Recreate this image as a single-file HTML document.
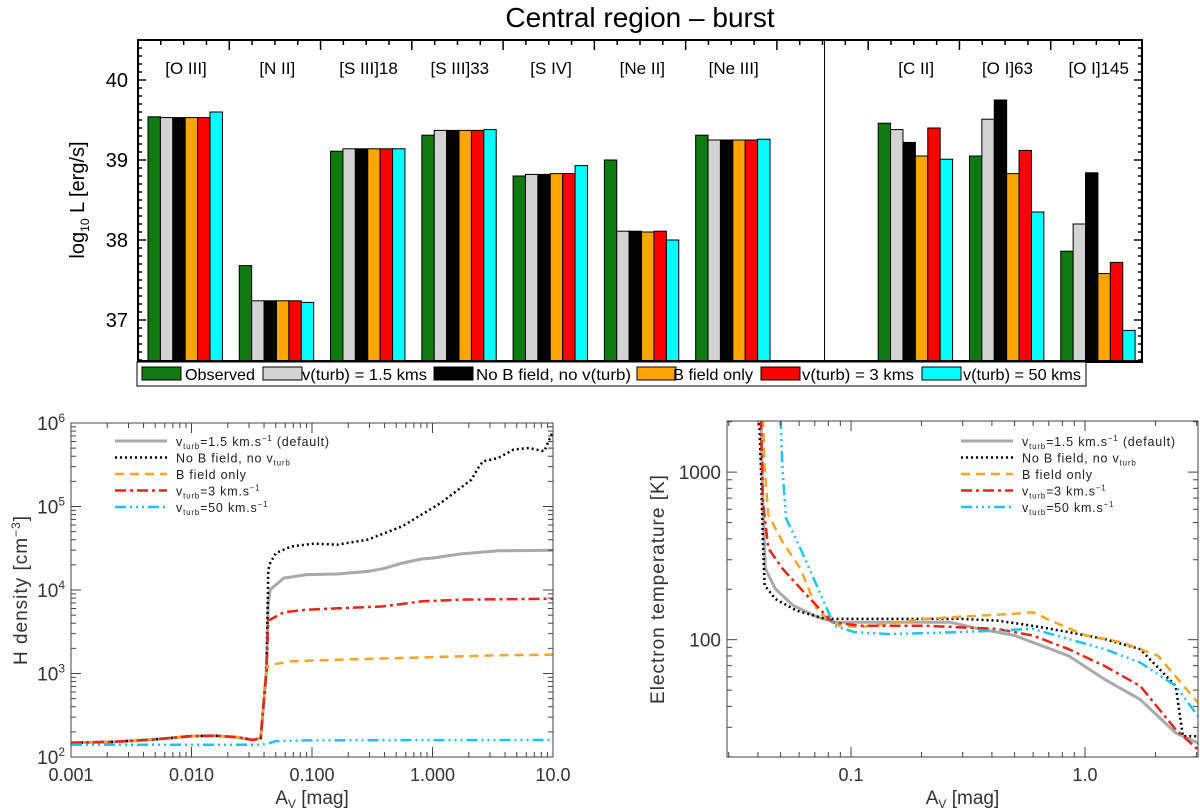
<!DOCTYPE html>
<html><head><meta charset="utf-8"><style>
html,body{margin:0;padding:0;background:#fff}
svg{display:block;font-family:"Liberation Sans",sans-serif}
</style></head><body>
<svg id="fig" width="1200" height="809" viewBox="0 0 1200 809" xmlns="http://www.w3.org/2000/svg">
<text x="640" y="27" font-size="28" text-anchor="middle">Central region – burst</text>
<g id="top"></g>
<g id="bl"></g>
<g id="br"></g>
</svg>
<script>
// ---------- TOP BAR CHART DATA ----------
const categories = ["[O III]","[N II]","[S III]18","[S III]33","[S IV]","[Ne II]","[Ne III]","","[C II]","[O I]63","[O I]145"];
const seriesNames = ["Observed","v(turb) = 1.5 kms","No B field, no v(turb)","B field only","v(turb) = 3 kms","v(turb) = 50 kms"];
const observed = [39.54,37.68,39.11,39.31,38.80,39.00,39.31,null,39.46,39.05,37.86];
const vturb15  = [39.53,37.24,39.14,39.37,38.82,38.11,39.25,null,39.38,39.51,38.20];
const noBfield = [39.53,37.24,39.14,39.37,38.82,38.11,39.25,null,39.22,39.75,38.84];
const bOnly    = [39.53,37.24,39.14,39.37,38.83,38.10,39.25,null,39.05,38.83,37.58];
const vturb3   = [39.53,37.24,39.14,39.37,38.83,38.11,39.25,null,39.40,39.12,37.72];
const vturb50  = [39.60,37.22,39.14,39.38,38.93,38.00,39.26,null,39.01,38.35,36.87];
const yTicks = [37,38,39,40];

// ---------- DENSITY CHART DATA ----------
const dAv_low = [0.001,0.00232,0.00483,0.01,0.0156,0.0242,0.0324,0.0375,0.0419];
const dN_low  = [148,152,162,178,180,172,160,168,1110];
const gAv = [0.0434,0.045,0.0582,0.0902,0.162,0.291,0.39,0.562,0.81,1.01,1.69,3.5,10];
const gN  = [6980,10100,13900,15300,15550,16700,18000,21000,23500,24200,27000,29500,29900];
const kAv = [0.0434,0.045,0.0502,0.0673,0.104,0.162,0.291,0.562,1.17,2.1,2.43,2.62,3.5,4.7,6.3,8.45,10];
const kN  = [17500,21000,27700,33300,35900,34900,40100,57900,110000,209000,300000,347000,381000,480000,502000,458000,795000];
const rAv = [0.0434,0.045,0.0582,0.0902,0.188,0.39,0.81,1.69,10];
const rN  = [4420,4420,5400,5810,6090,6370,7310,7650,7870];
const oAv = [0.0434,0.0467,0.0673,0.188,0.81,3.5,10];
const oN  = [1220,1280,1400,1470,1560,1650,1680];
const cAv = [0.001,0.0324,0.0375,0.0434,0.0502,0.0902,0.39,10];
const cN  = [140,140,140,145,155,158,159,160];

// ---------- TEMPERATURE CHART DATA ----------
const tgAv = [0.0412,0.0420,0.0430,0.0475,0.0566,0.0724,0.0863,0.146,0.266,0.353,0.501,0.598,0.851,1.21,1.72,2.44,3.04];
const tgT  = [2100,668,266,201,160,136,127,127,127,116,106,96.4,80.2,58.1,44.0,27.8,24.2];
const tkAv = [0.0405,0.0412,0.0420,0.0427,0.0475,0.0586,0.0777,0.123,0.296,0.421,0.598,0.851,1.21,1.72,2.44,2.62,3.04];
const tkT  = [2100,1059,385,211,175,149,133,133,133,130,121,111,101,87.9,53.0,26.5,26.5];
const toAv = [0.0420,0.0427,0.0443,0.0509,0.0607,0.0724,0.0894,0.110,0.208,0.353,0.501,0.598,0.713,1.01,1.44,2.05,3.04];
const toT  = [2100,1059,556,385,266,146,121,119,133,139,143,146,130,106,96.4,80.2,42.1];
const trAv = [0.0412,0.0420,0.0443,0.0509,0.0629,0.0833,0.110,0.208,0.421,0.598,0.851,1.21,1.72,2.44,3.04];
const trT  = [2100,668,351,266,192,127,121,121,116,106,87.9,69.8,53.0,29.1,22.1];
const tcAv = [0.0500,0.0509,0.0527,0.0607,0.0724,0.0849,0.103,0.146,0.296,0.598,0.851,1.21,1.72,2.44,3.04];
const tcT  = [2100,1059,531,351,201,121,111,108,111,116,101,87.9,73.1,53.0,35.0];

const NS="http://www.w3.org/2000/svg";
function mk(parent,tag,attrs,text){const e=document.createElementNS(NS,tag);for(const k in attrs)e.setAttribute(k,attrs[k]);if(text!==undefined)e.textContent=text;parent.appendChild(e);return e;}

// ================= TOP =================
(function(){
const g=document.getElementById('top');
const L=138,R=1142,T=40,B=362;
const yv=v=>160-(v-39)*80;
const slotW=(R-L)/categories.length;
const barW=12.4;
const colors=["#0f7a0f","#d3d3d3","#000000","#ffa500","#ff0000","#00ffff"];
const series=[observed,vturb15,noBfield,bOnly,vturb3,vturb50];
const keys=['observed','vturb-1-5','no-b-field','b-field-only','vturb-3','vturb-50'];
for(let i=0;i<categories.length;i++){
  const x0=L+10+slotW*i;
  for(let s=0;s<6;s++){
    const v=series[s][i];
    if(v===null)continue;
    const r=mk(g,'rect',{x:x0+s*barW,y:yv(v),width:barW,height:B-yv(v),fill:colors[s],stroke:'#000','stroke-width':1});
    
    
  }
  if(categories[i]){
    const t=mk(g,'text',{x:x0+38,y:74,'font-size':17,'text-anchor':'middle'},categories[i]);
    
    
  }
}
mk(g,'line',{x1:L,y1:B-1,x2:R,y2:B-1,stroke:'#000','stroke-width':2});
const dv=mk(g,'line',{x1:L+slotW*7.5+2,y1:T,x2:L+slotW*7.5+2,y2:B,stroke:'#000','stroke-width':1});


const fr=mk(g,'rect',{x:L,y:T,width:R-L,height:B-T,fill:'none',stroke:'#000','stroke-width':2});


for(let v=36.5;v<=40.5;v+=0.1){const y=yv(v);const maj=Math.abs(v-Math.round(v))<0.01;
 mk(g,'line',{x1:L,y1:y,x2:L+(maj?8:4),y2:y,stroke:'#000','stroke-width':1.5});
 mk(g,'line',{x1:R,y1:y,x2:R-(maj?8:4),y2:y,stroke:'#000','stroke-width':1.5});}
for(let i=0;i<=categories.length*4;i++){const x=L+slotW*i/4;const maj=i%4===0;
 mk(g,'line',{x1:x,y1:T,x2:x,y2:T+(maj?10:5),stroke:'#000','stroke-width':1.5});}
yTicks.forEach(v=>{const t=mk(g,'text',{x:128,y:yv(v)+7,'font-size':20,'text-anchor':'end'},v);
 
 });
const yl=mk(g,'text',{transform:'translate(84,200) rotate(-90)','font-size':20,'text-anchor':'middle'});


yl.innerHTML='log<tspan font-size="12" dy="5">10</tspan><tspan dy="-5"> L  [erg/s]</tspan>';
const lg=mk(g,'rect',{x:137,y:362,width:949,height:24,fill:'#fff',stroke:'#000','stroke-width':1});


const sx=[142,263,434,637,761,922],tx=[185,302,476,673,802,963],tw=[70,125,155,80,112,118];
for(let s=0;s<6;s++){
 const sw=mk(g,'rect',{x:sx[s],y:367,width:39,height:13,fill:colors[s],stroke:'#000','stroke-width':1});
 
 
 const t=mk(g,'text',{x:tx[s],y:380,'font-size':16,textLength:tw[s],lengthAdjust:'spacingAndGlyphs'},seriesNames[s]);
 
 
}
})();

// ================= LOG PLOT HELPER =================
function logPlot(gid,box,xr,yr,lines,opts){
 const g=document.getElementById(gid);
 const {L,R,T,B}=box;
 const xs=v=>L+(Math.log10(v)-xr[0])/(xr[1]-xr[0])*(R-L);
 const ys=v=>B-(Math.log10(v)-yr[0])/(yr[1]-yr[0])*(B-T);
 const cid=gid+'clip';
 const cp=mk(g,'clipPath',{id:cid});mk(cp,'rect',{x:L,y:T,width:R-L,height:B-T});
 lines.forEach(ln=>{
  let d='';ln.x.forEach((x,i)=>{d+=(i?'L':'M')+xs(x).toFixed(1)+','+ys(ln.y[i]).toFixed(1);});
  const p=mk(g,'path',{d:d,fill:'none',stroke:ln.color,'stroke-width':ln.w,'stroke-dasharray':ln.dash||'none','clip-path':'url(#'+cid+')','stroke-linejoin':'round'});
  
  
 });
 const fr=mk(g,'rect',{x:L,y:T,width:R-L,height:B-T,fill:'none',stroke:'#444','stroke-width':1});
 
 
 for(let e=Math.floor(xr[0]);e<=Math.ceil(xr[1]);e++)for(let m=1;m<10;m++){
  const lv=e+Math.log10(m);if(lv<xr[0]-1e-6||lv>xr[1]+1e-6)continue;const x=xs(Math.pow(10,lv));const h=m===1?10:5;
  mk(g,'line',{x1:x,y1:B,x2:x,y2:B-h,stroke:'#444'});mk(g,'line',{x1:x,y1:T,x2:x,y2:T+h,stroke:'#444'});}
 for(let e=Math.floor(yr[0]);e<=Math.ceil(yr[1]);e++)for(let m=1;m<10;m++){
  const lv=e+Math.log10(m);if(lv<yr[0]-1e-6||lv>yr[1]+1e-6)continue;const y=ys(Math.pow(10,lv));const h=m===1?10:5;
  mk(g,'line',{x1:L,y1:y,x2:L+h,y2:y,stroke:'#444'});mk(g,'line',{x1:R,y1:y,x2:R-h,y2:y,stroke:'#444'});}
 opts.xt.forEach((v,i)=>{const t=mk(g,'text',{x:xs(v),y:B+24,'font-size':18,fill:'#333','text-anchor':'middle'},opts.xl[i]);
  
  });
 opts.yt.forEach((v,i)=>{const t=mk(g,'text',{x:L-6,y:ys(v)+7,'font-size':19,fill:'#333','text-anchor':'end'});t.innerHTML=opts.yl[i];
  
  });
 const xt=mk(g,'text',{x:(L+R)/2,y:804,'font-size':19,fill:'#333','text-anchor':'middle'});
 xt.innerHTML='A<tspan font-size="12" dy="4">V</tspan><tspan dy="-4"> [mag]</tspan>';
 
 
 const yt=mk(g,'text',{transform:'translate('+opts.ylx+','+(T+B)/2+') rotate(-90)','font-size':19,fill:'#333','text-anchor':'middle','letter-spacing':'1'});
 yt.innerHTML=opts.ytitle;
 
 
 const labels=['v<tspan font-size="8" dy="3">turb</tspan><tspan dy="-3">=1.5 km.s</tspan><tspan font-size="8" dy="-5">−1</tspan><tspan dy="5"> (default)</tspan>',
  'No B field, no v<tspan font-size="8" dy="3">turb</tspan>','B field only',
  'v<tspan font-size="8" dy="3">turb</tspan><tspan dy="-3">=3 km.s</tspan><tspan font-size="8" dy="-5">−1</tspan>',
  'v<tspan font-size="8" dy="3">turb</tspan><tspan dy="-3">=50 km.s</tspan><tspan font-size="8" dy="-5">−1</tspan>'];
 lines.slice(0,5).forEach((ln,i)=>{const y=441+i*16.5;
  const l=mk(g,'line',{x1:opts.lgx,y1:y,x2:opts.lgx+52,y2:y,stroke:ln.color,'stroke-width':ln.w,'stroke-dasharray':ln.dash||'none'});
  
  
  const t=mk(g,'text',{x:opts.lgx+61,y:y+5,'font-size':12.5,fill:'#222','letter-spacing':'0.8'});t.innerHTML=labels[i];
  
  });
}
const GRAY='#aaaaaa',BLK='#000',ORG='#f5a623',RED='#e8251a',CYN='#1fc4ee';
const DOT='2 3',DASH='9 6',DD='11 4 3 4',D3='11 4 2 4 2 4 2 4';

logPlot('bl',{L:71,R:553,T:423,B:757},[-3,1],[2,6],[
 {name:'line-vturb-1-5',x:dAv_low.concat(gAv),y:dN_low.concat(gN),color:GRAY,w:3},
 {name:'line-no-b-field',x:dAv_low.concat(kAv),y:dN_low.concat(kN),color:BLK,w:2.5,dash:DOT},
 {name:'line-b-field-only',x:dAv_low.concat(oAv),y:dN_low.concat(oN),color:ORG,w:2.5,dash:DASH},
 {name:'line-vturb-3',x:dAv_low.concat(rAv),y:dN_low.concat(rN),color:RED,w:2.5,dash:DD},
 {name:'line-vturb-50',x:cAv,y:cN,color:CYN,w:2.5,dash:D3}
],{xt:[0.001,0.01,0.1,1,10],xl:['0.001','0.010','0.100','1.000','10.0'],
 yt:[100,1000,10000,100000,1000000],yl:['10<tspan font-size="12" dy="-8">2</tspan>','10<tspan font-size="12" dy="-8">3</tspan>','10<tspan font-size="12" dy="-8">4</tspan>','10<tspan font-size="12" dy="-8">5</tspan>','10<tspan font-size="12" dy="-8">6</tspan>'],
 ylx:27,ytitle:'H  density  [cm<tspan font-size="12" dy="-7">−3</tspan><tspan dy="7">]</tspan>',lgx:115});

logPlot('br',{L:727,R:1198,T:421,B:757},[Math.log10(0.0295),Math.log10(3.04)],[1.30,3.305],[
 {name:'line-vturb-1-5',x:tgAv,y:tgT,color:GRAY,w:3},
 {name:'line-no-b-field',x:tkAv,y:tkT,color:BLK,w:2.5,dash:DOT},
 {name:'line-b-field-only',x:toAv,y:toT,color:ORG,w:2.5,dash:DASH},
 {name:'line-vturb-3',x:trAv,y:trT,color:RED,w:2.5,dash:DD},
 {name:'line-vturb-50',x:tcAv,y:tcT,color:CYN,w:2.5,dash:D3}
],{xt:[0.1,1],xl:['0.1','1.0'],yt:[100,1000],yl:['100','1000'],
 ylx:664,ytitle:'Electron  temperature  [K]',lgx:961});
</script>
</body></html>
